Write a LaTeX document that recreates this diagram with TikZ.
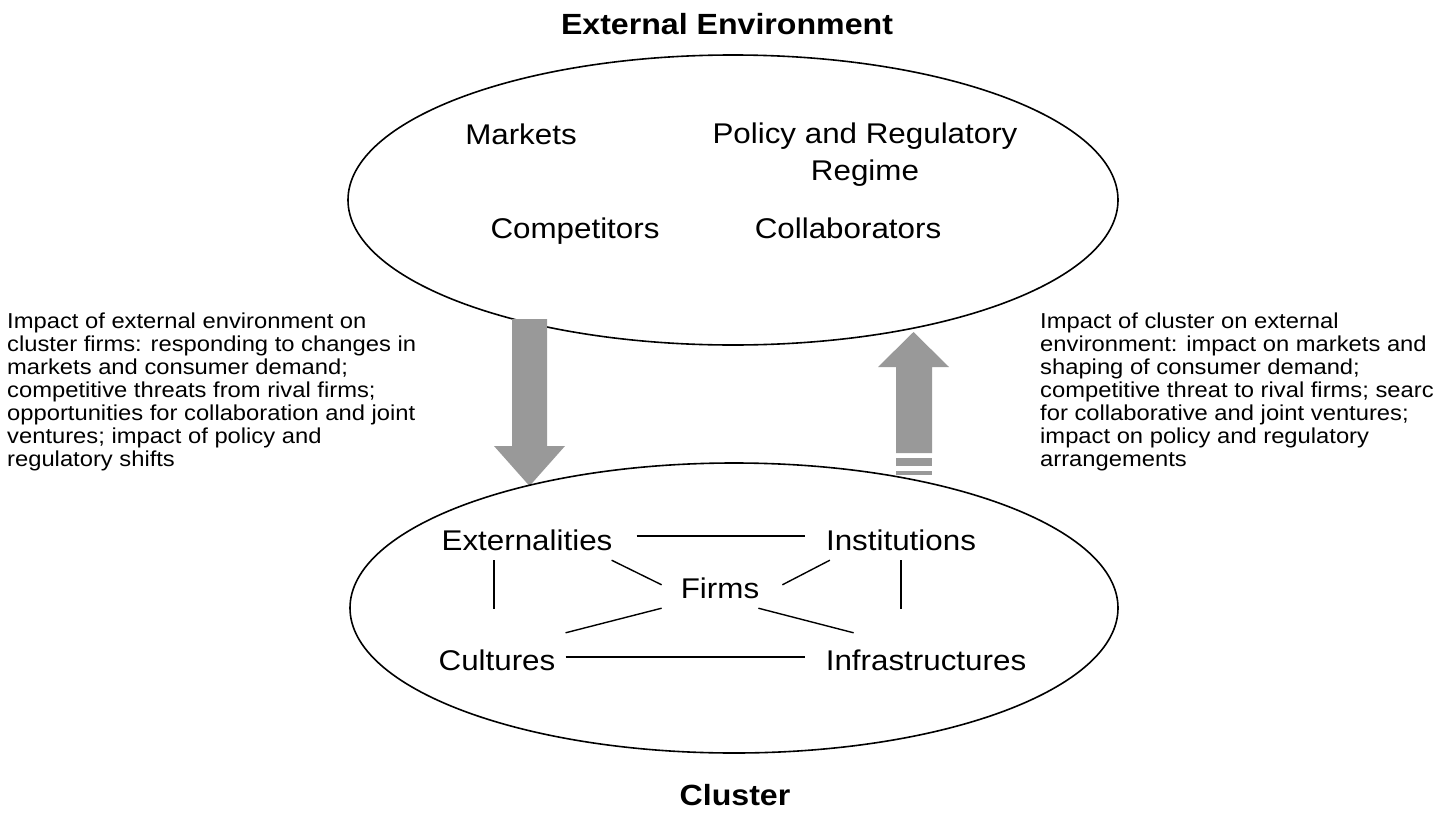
\documentclass[tikz,border=0pt]{standalone}
\usepackage{fontspec}
\setmainfont[FakeStretch=1.1]{Liberation Sans}
\usetikzlibrary{calc}
\definecolor{arrowgray}{HTML}{999999}
\tikzset{
  lbl/.style={inner sep=0pt, anchor=base, font=\fontsize{28.5}{32}\selectfont, text height=19pt, text depth=0pt},
  ttl/.style={inner sep=0pt, anchor=base, font=\fontsize{29.2}{32}\selectfont\bfseries},
  note/.style={inner sep=0pt, anchor=north west, align=left, font=\fontsize{21.6}{23}\selectfont},
  link/.style={line width=1.4pt},
  oval/.style={line width=1.6pt},
  blockarrow/.style={fill=arrowgray, draw=none}
}
\begin{document}
\begin{tikzpicture}[x=1pt, y=-1pt]
\useasboundingbox (0,0) rectangle (1453,819);
\clip (0,0) rectangle (1453,819);

% titles
\node[ttl] (envtitle) at (727,34) {External Environment};
\node[ttl] (clustertitle) at (735,805) {Cluster};

% top ellipse
\draw[oval] (733,200) ellipse [x radius=385pt, y radius=145pt];
\node[lbl] (markets) at (521,144) {Markets};
\node[lbl] (policy) at (865,143) {Policy and Regulatory};
\node[lbl] (regime) at (865,180) {Regime};
\node[lbl] (competitors) at (575,238) {Competitors};
\node[lbl] (collaborators) at (848,238) {Collaborators};

% block arrows
\fill[blockarrow] (512,319) -- (547,319) -- (547,446) -- (565,446) -- (529.5,486)
  -- (494,446) -- (512,446) -- cycle;
\fill[blockarrow] (913.5,332) -- (949,367) -- (932,367) -- (932,453) -- (896,453)
  -- (896,367) -- (878,367) -- cycle;
\fill[blockarrow] (896,458) rectangle (932,466);
\fill[blockarrow] (896,471) rectangle (932,475);

% bottom ellipse
\draw[oval] (734,608) ellipse [x radius=384pt, y radius=145pt];
\node[lbl] (ext) at (527,550) {Externalities};
\node[lbl] (inst) at (901,550) {Institutions};
\node[lbl] (firms) at (720,598) {Firms};
\node[lbl] (cult) at (497,670) {Cultures};
\node[lbl] (infra) at (926,670) {Infrastructures};

\draw[link] ($(ext.east)+(24,-4.5)$) -- ($(inst.west)+(-21,-4.5)$);
\draw[link] ($(cult.east)+(10,-3.5)$) -- ($(infra.west)+(-21,-3.5)$);
\draw[link] ($(ext.south)+(-33,10)$) -- ($(cult.north)+(-3,-42)$);
\draw[link] ($(inst.south)+(0,10)$) -- ($(infra.north)+(-25,-42)$);
\draw[link] ($(ext.south east)+(-1,10)$) -- ($(firms.north west)+(-19,6)$);
\draw[link] ($(inst.south west)+(4,10)$) -- ($(firms.north east)+(23,6)$);
\draw[link] ($(firms.south west)+(-19,10)$) -- ($(cult.north east)+(10,-18)$);
\draw[link] ($(firms.south east)+(-1,10)$) -- ($(infra.north west)+(28,-18)$);

% side notes
\node[note] (leftnote) at (7,312.3) {Impact of external environment on\\
cluster firms: responding to changes in\\
markets and consumer demand;\\
competitive threats from rival firms;\\
opportunities for collaboration and joint\\
ventures; impact of policy and\\
regulatory shifts};
\node[note] (rightnote) at (1040,312.3) {Impact of cluster on external\\
environment: impact on markets and\\
shaping of consumer demand;\\
competitive threat to rival firms; searc\\
for collaborative and joint ventures;\\
impact on policy and regulatory\\
arrangements};
\end{tikzpicture}
\end{document}
